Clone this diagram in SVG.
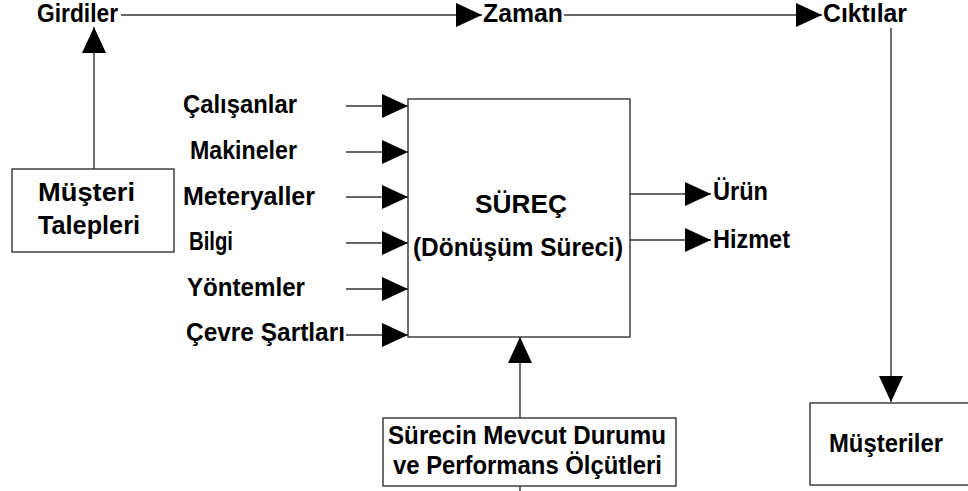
<svg xmlns="http://www.w3.org/2000/svg" width="968" height="491" viewBox="0 0 968 491">
<defs>
<style>
text{font-family:"Liberation Sans",Arial,sans-serif;font-size:25px;font-weight:bold;fill:#000}
.box{fill:#fff;stroke:#333;stroke-width:1.4}
.ln{fill:none;stroke:#333;stroke-width:1.4}
</style>
<marker id="ah" markerUnits="userSpaceOnUse" markerWidth="26" markerHeight="24" refX="26" refY="12" orient="auto">
<path d="M0,0 L26,12 L0,24 Z" fill="#000"/>
</marker>
</defs>
<rect width="968" height="491" fill="#fff"/>
<g id="connectors">
<line class="ln" x1="121" y1="15" x2="482" y2="15" marker-end="url(#ah)"/>
<line class="ln" x1="564" y1="15" x2="822" y2="15" marker-end="url(#ah)"/>
<line class="ln" x1="891" y1="28" x2="891" y2="402" marker-end="url(#ah)"/>
<line class="ln" x1="94" y1="169" x2="94" y2="27" marker-end="url(#ah)"/>
<line class="ln" x1="346" y1="106" x2="408" y2="106" marker-end="url(#ah)"/>
<line class="ln" x1="346" y1="152" x2="408" y2="152" marker-end="url(#ah)"/>
<line class="ln" x1="346" y1="197" x2="408" y2="197" marker-end="url(#ah)"/>
<line class="ln" x1="346" y1="243" x2="408" y2="243" marker-end="url(#ah)"/>
<line class="ln" x1="346" y1="289" x2="408" y2="289" marker-end="url(#ah)"/>
<line class="ln" x1="346" y1="335" x2="408" y2="335" marker-end="url(#ah)"/>
<line class="ln" x1="630" y1="194" x2="711" y2="194" marker-end="url(#ah)"/>
<line class="ln" x1="630" y1="240" x2="711" y2="240" marker-end="url(#ah)"/>
<line class="ln" x1="520" y1="418" x2="520" y2="337" marker-end="url(#ah)"/>
<line class="ln" x1="520" y1="486" x2="520" y2="491"/>
</g>
<g id="girdiler"><text x="37" y="22" textLength="81" lengthAdjust="spacingAndGlyphs">Girdiler</text></g>
<g id="zaman"><text x="483" y="22" textLength="80" lengthAdjust="spacingAndGlyphs">Zaman</text></g>
<g id="ciktilar"><text x="823" y="22" textLength="84" lengthAdjust="spacingAndGlyphs">Cıktılar</text></g>
<g id="musteri-talepleri">
<rect class="box" x="12" y="169" width="162" height="83"/>
<text x="38" y="201" textLength="97" lengthAdjust="spacingAndGlyphs">Müşteri</text>
<text x="38" y="234" textLength="102" lengthAdjust="spacingAndGlyphs">Talepleri</text>
</g>
<g id="calisanlar"><text x="183" y="113" textLength="114" lengthAdjust="spacingAndGlyphs">Çalışanlar</text></g>
<g id="makineler"><text x="190" y="159" textLength="107" lengthAdjust="spacingAndGlyphs">Makineler</text></g>
<g id="meteryaller"><text x="183" y="205" textLength="132" lengthAdjust="spacingAndGlyphs">Meteryaller</text></g>
<g id="bilgi"><text x="189" y="250" textLength="44" lengthAdjust="spacingAndGlyphs">Bilgi</text></g>
<g id="yontemler"><text x="187" y="296" textLength="118" lengthAdjust="spacingAndGlyphs">Yöntemler</text></g>
<g id="cevre"><text x="186" y="341" textLength="159" lengthAdjust="spacingAndGlyphs">Çevre Şartları</text></g>
<g id="surec">
<rect class="box" x="408" y="99" width="222" height="238"/>
<text x="475" y="213" textLength="92" lengthAdjust="spacingAndGlyphs">SÜREÇ</text>
<text x="413" y="256" textLength="210" lengthAdjust="spacingAndGlyphs">(Dönüşüm Süreci)</text>
</g>
<g id="urun"><text x="713" y="200" textLength="55" lengthAdjust="spacingAndGlyphs">Ürün</text></g>
<g id="hizmet"><text x="713" y="248" textLength="77" lengthAdjust="spacingAndGlyphs">Hizmet</text></g>
<g id="mevcut-durum">
<rect class="box" x="383" y="418" width="293" height="68"/>
<text x="388" y="444" textLength="278" lengthAdjust="spacingAndGlyphs">Sürecin Mevcut Durumu</text>
<text x="393" y="474" textLength="269" lengthAdjust="spacingAndGlyphs">ve Performans Ölçütleri</text>
</g>
<g id="musteriler">
<rect class="box" x="810" y="403" width="160" height="82"/>
<text x="829" y="452" textLength="114" lengthAdjust="spacingAndGlyphs">Müşteriler</text>
</g>
</svg>
